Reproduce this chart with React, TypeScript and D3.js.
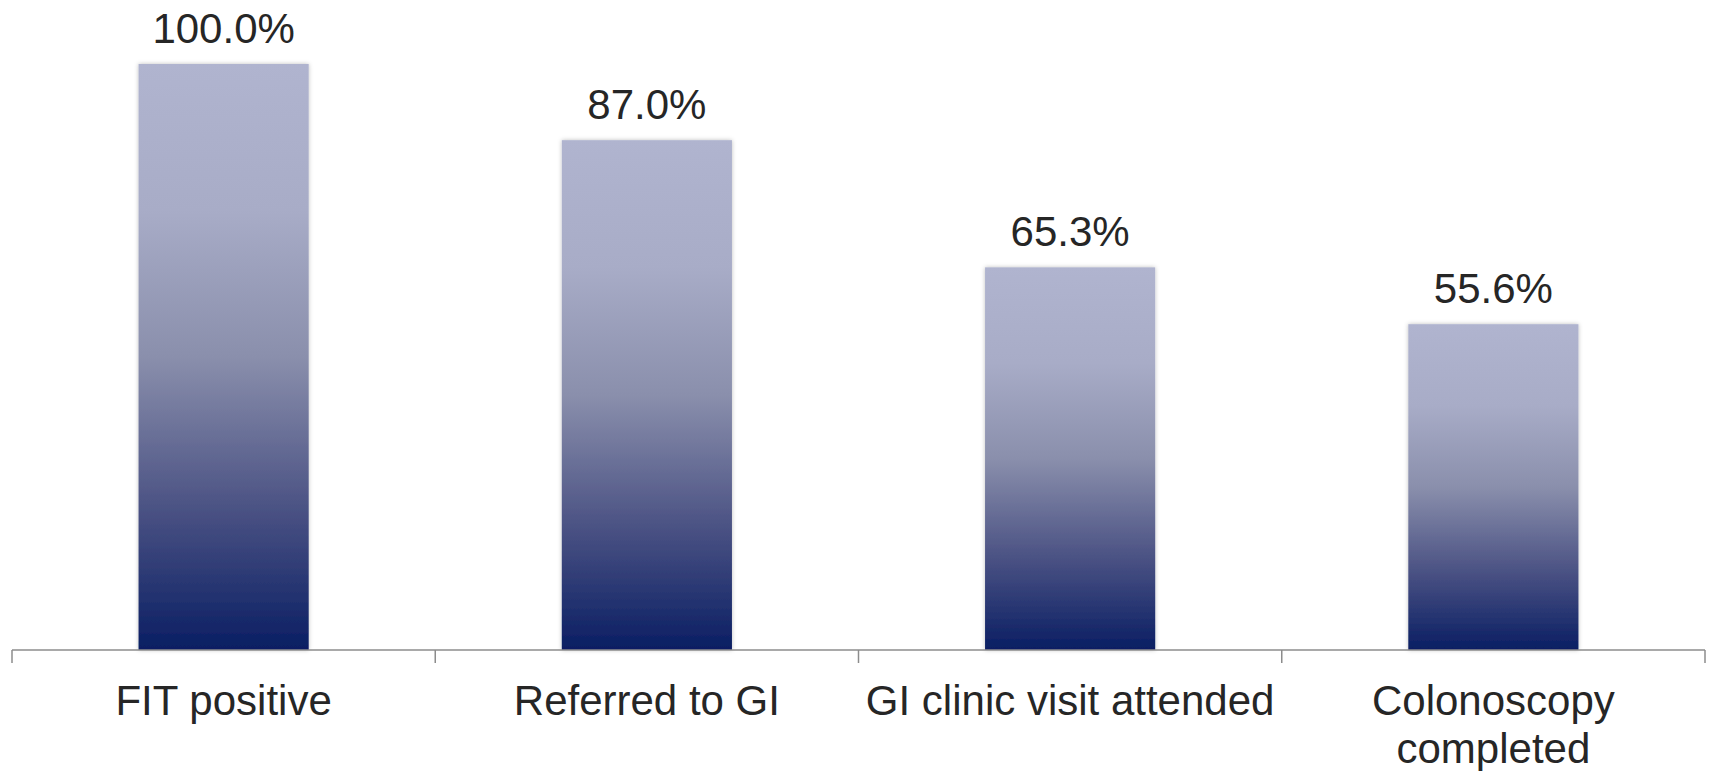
import React, { useEffect, useRef } from 'react';
import * as d3 from 'd3';

const categories = ['FIT positive', 'Referred to GI', 'GI clinic visit attended', 'Colonoscopy completed'];
const categoryLines = [['FIT positive'], ['Referred to GI'], ['GI clinic visit attended'], ['Colonoscopy', 'completed']];
const values = [100.0, 87.0, 65.3, 55.6];

const W = 1713;
const H = 771;

export default function App() {
  const ref = useRef<SVGSVGElement | null>(null);

  useEffect(() => {
    document.body.style.margin = '0';
    const svg = d3.select(ref.current);
    svg.selectAll('*').remove();

    const margin = { left: 12, right: 8, top: 64, bottom: 121 };
    const axisY = H - margin.bottom;

    const x = d3.scaleBand<string>().domain(categories).range([margin.left, W - margin.right]).padding(0);
    const y = d3.scaleLinear().domain([0, 100]).range([axisY, margin.top]);
    const barW = x.bandwidth() * 0.402;

    const defs = svg.append('defs');
    const grad = defs.append('linearGradient')
      .attr('id', 'barGrad')
      .attr('x1', 0).attr('y1', 0).attr('x2', 0).attr('y2', 1);
    [
      ['0%', '#b0b4cf'],
      ['25%', '#a8acc7'],
      ['50%', '#8a8fac'],
      ['75%', '#4d5485'],
      ['100%', '#0a1e63'],
    ].forEach(([o, c]) => grad.append('stop').attr('offset', o).attr('stop-color', c));

    const shadow = defs.append('filter').attr('id', 'shadow')
      .attr('x', '-10%').attr('y', '-5%').attr('width', '120%').attr('height', '110%');
    shadow.append('feDropShadow')
      .attr('dx', 0).attr('dy', 0).attr('stdDeviation', 2)
      .attr('flood-color', '#000').attr('flood-opacity', 0.25);

    const g = svg.append('g');

    g.selectAll('rect.bar')
      .data(values)
      .join('rect')
      .attr('class', 'bar')
      .attr('x', (_, i) => (x(categories[i]) as number) + x.bandwidth() / 2 - barW / 2)
      .attr('y', (d) => y(d))
      .attr('width', barW)
      .attr('height', (d) => axisY - y(d))
      .attr('fill', 'url(#barGrad)')
      .attr('filter', 'url(#shadow)');

    g.selectAll('text.val')
      .data(values)
      .join('text')
      .attr('class', 'val')
      .attr('x', (_, i) => (x(categories[i]) as number) + x.bandwidth() / 2)
      .attr('y', (d) => y(d) - 21)
      .attr('text-anchor', 'middle')
      .attr('fill', '#262626')
      .attr('font-size', '42px')
      .attr('font-family', '"Liberation Sans", Arial, sans-serif')
      .text((d) => `${d.toFixed(1)}%`);

    // axis line with ticks at category boundaries
    const axisG = g.append('g');
    axisG.append('line')
      .attr('x1', margin.left).attr('x2', W - margin.right)
      .attr('y1', axisY).attr('y2', axisY)
      .attr('stroke', '#8c8c8c').attr('stroke-width', 1.5);
    const bounds = categories.map((c) => x(c) as number).concat([W - margin.right]);
    axisG.selectAll('line.tick')
      .data(bounds)
      .join('line')
      .attr('class', 'tick')
      .attr('x1', (d) => d).attr('x2', (d) => d)
      .attr('y1', axisY).attr('y2', axisY + 13)
      .attr('stroke', '#8c8c8c').attr('stroke-width', 1.5);

    categories.forEach((c, i) => {
      const t = g.append('text')
        .attr('x', (x(c) as number) + x.bandwidth() / 2)
        .attr('y', axisY + 65)
        .attr('text-anchor', 'middle')
        .attr('fill', '#262626')
        .attr('font-size', '42px')
        .attr('font-family', '"Liberation Sans", Arial, sans-serif');
      categoryLines[i].forEach((line, j) => {
        t.append('tspan')
          .attr('x', (x(c) as number) + x.bandwidth() / 2)
          .attr('dy', j === 0 ? 0 : 48)
          .text(line);
      });
    });
  }, []);

  return <svg ref={ref} width={W} height={H} style={{ display: 'block', background: '#fff' }} />;
}
